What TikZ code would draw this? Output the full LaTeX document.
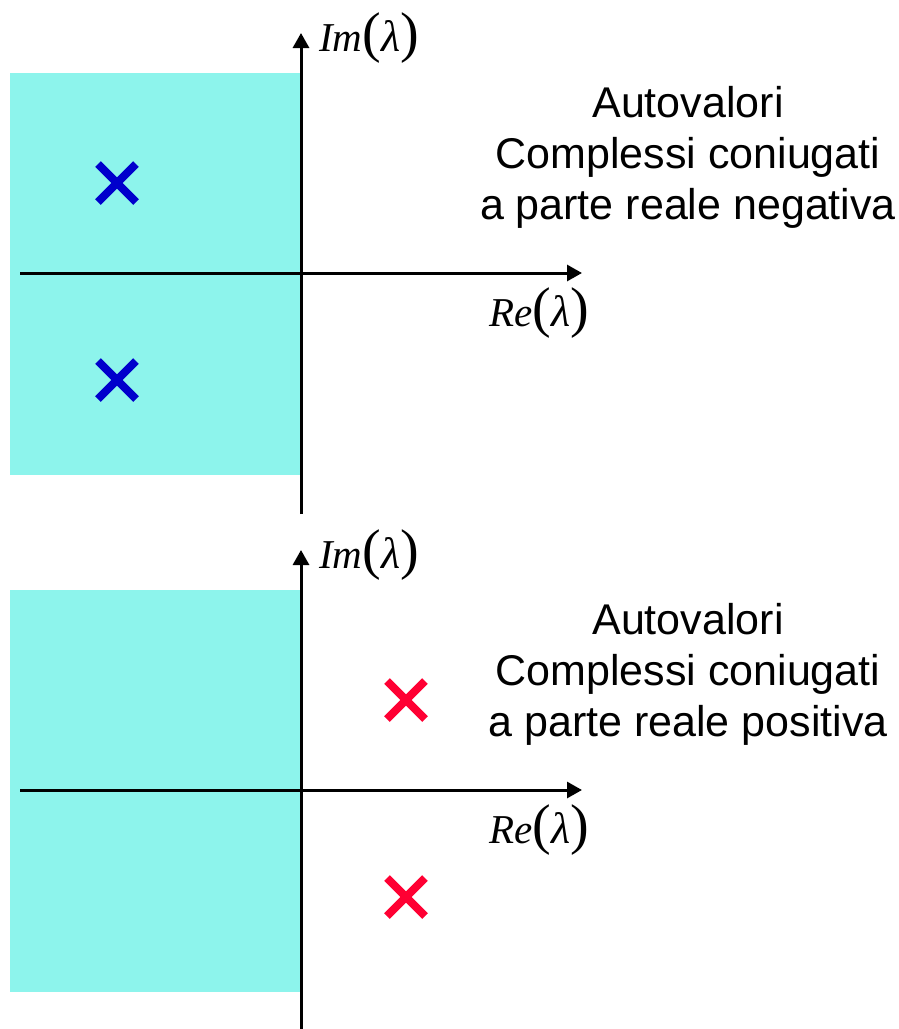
\documentclass[tikz,border=0pt]{standalone}
\usepackage{fontspec}
\setmainfont{Liberation Sans}
\newfontfamily\tnr{Liberation Serif}
\usetikzlibrary{arrows.meta,shapes.misc}
\definecolor{stable}{RGB}{141,244,236}
\definecolor{eigblue}{RGB}{0,0,204}
\definecolor{eigred}{RGB}{255,0,51}
\tikzset{
  axis/.style={line width=3pt,-{Triangle[length=15pt,width=16pt]}},
  region/.style={fill=stable,draw=none},
  pole/.style={cross out,draw,line width=8pt,minimum size=38pt,inner sep=0pt,outer sep=0pt},
  desc/.style={align=center,font=\fontsize{43}{51}\selectfont,inner sep=0pt},
  axlabel/.style={inner sep=0pt,anchor=base west},
}
\newcommand{\bigpar}[1]{{\fontsize{56}{56}\selectfont\upshape #1}}
\newcommand{\axtxt}[1]{{\tnr\itshape\fontsize{41}{41}\selectfont #1\bigpar{(}{\fontsize{44}{44}\selectfont λ}\bigpar{)}}}
\begin{document}
\begin{tikzpicture}[x=1pt,y=-1pt]
\useasboundingbox (0,0) rectangle (899,1029);
% two copies of the complex plane, the second one shifted down
\foreach \dy/\col/\px/\word/\tag in {0/eigblue/117/negativa/a, 517/eigred/406/positiva/b} {
  \begin{scope}[yshift=-\dy pt]
    \fill[region] (10,73) rectangle (300,475);
    \coordinate (xs\tag) at (20,273);
    \coordinate (xe\tag) at (582,273);
    \coordinate (ys\tag) at (301,514);
    \coordinate (ye\tag) at (301,33);
    \draw[axis] (xs\tag) -- (xe\tag);
    \draw[axis] (ys\tag) -- (ye\tag);
    \node[axlabel] (im\tag) at (319,51) {\axtxt{Im}};
    \node[axlabel] (re\tag) at (489,326) {\axtxt{Re}};
    \node[pole,color=\col] (p1\tag) at (\px,183) {};
    \node[pole,color=\col] (p2\tag) at (\px,380) {};
    \node[desc,anchor=base] (d\tag) at (688,219) {Autovalori\\Complessi coniugati\\a parte reale \word};
  \end{scope}
}
\end{tikzpicture}
\end{document}
